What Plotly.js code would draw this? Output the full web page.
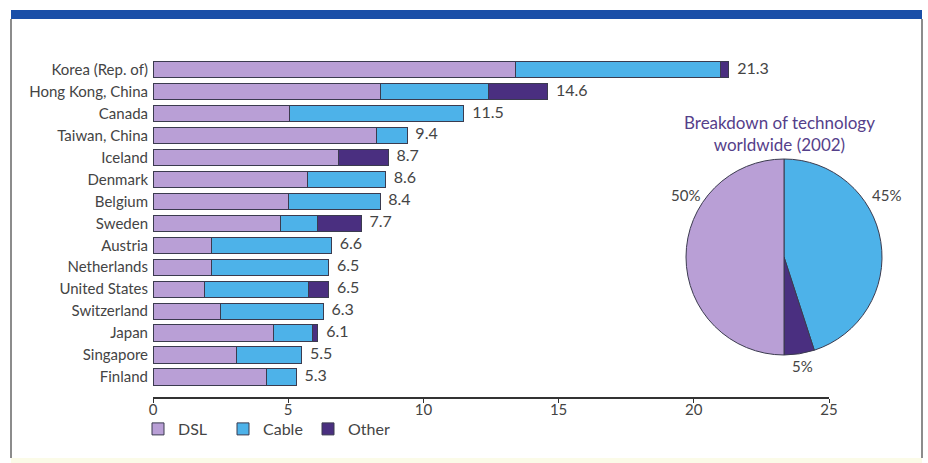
<!DOCTYPE html>
<html>
<head>
<meta charset="utf-8">
<script src="https://cdn.plot.ly/plotly-3.0.1.min.js"></script>
<style>html,body{margin:0;padding:0;background:#fff;}#chart{width:928px;height:463px;}</style>
</head>
<body>
<div id="chart"></div>
<script>
const countries = ["Korea (Rep. of)","Hong Kong, China","Canada","Taiwan, China","Iceland","Denmark","Belgium","Sweden","Austria","Netherlands","United States","Switzerland","Japan","Singapore","Finland"];
const dsl   = [13.4, 8.4, 5.05, 8.25, 6.85, 5.7, 5.0, 4.7, 2.15, 2.15, 1.9, 2.5, 4.45, 3.1, 4.2];
const cable = [7.6, 4.0, 6.45, 1.15, 0, 2.9, 3.4, 1.4, 4.45, 4.35, 3.85, 3.8, 1.45, 2.4, 1.1];
const other = [0.3, 2.2, 0, 0, 1.85, 0, 0, 1.6, 0, 0, 0.75, 0, 0.2, 0, 0];
const totals = [21.3, 14.6, 11.5, 9.4, 8.7, 8.6, 8.4, 7.7, 6.6, 6.5, 6.5, 6.3, 6.1, 5.5, 5.3];
const techLabels = ["Cable","Other","DSL"];
const techShare = [45, 5, 50];
const xTicks = [0, 5, 10, 15, 20, 25];

const cDSL = "#b99fd6", cCable = "#4db2e9", cOther = "#4a2f80";
const outline = {color:"#3b3b4f", width:1};
const font = "Lato, 'Open Sans', sans-serif";

const traces = [
  {type:"bar", orientation:"h", name:"DSL", y:countries, x:dsl, marker:{color:cDSL, line:outline}, width:0.74},
  {type:"bar", orientation:"h", name:"Cable", y:countries, x:cable, marker:{color:cCable, line:outline}, width:0.74},
  {type:"bar", orientation:"h", name:"Other", y:countries, x:other, marker:{color:cOther, line:outline}, width:0.74},
  {type:"scatter", mode:"text", y:countries, x:totals, text:totals.map(v=>"\u00a0\u00a0" + v.toFixed(1)), textposition:"middle right",
   textfont:{family:font, size:16, color:"#444"}, showlegend:false, cliponaxis:false},
  {type:"pie", labels:techLabels, values:techShare, sort:false, direction:"clockwise", rotation:0,
   marker:{colors:[cCable, cOther, cDSL], line:{color:"#3b3b4f", width:1}}, textinfo:"none", showlegend:false,
   domain:{x:[686/928, 882/928], y:[1-355/463, 1-159/463]}}
];

const pieLabelPos = {"DSL":[685,195], "Cable":[886,195], "Other":[802,366]};
const annotations = techLabels.map((l,i)=>({
  xref:"paper", yref:"paper", x:pieLabelPos[l][0]/928, y:1-pieLabelPos[l][1]/463, xanchor:"center", yanchor:"middle",
  text: techShare[i] + "%", showarrow:false, font:{family:font, size:15, color:"#444"}
}));
annotations.push({xref:"paper", yref:"paper", x:779/928, y:1-133/463, xanchor:"center", yanchor:"middle",
  text:"Breakdown of technology<br>worldwide (2002)",
  showarrow:false, font:{family:font, size:17, color:"#55408a"}, align:"center"});

const layout = {
  width:928, height:463,
  margin:{l:0, r:0, t:0, b:0},
  paper_bgcolor:"#fff", plot_bgcolor:"rgba(0,0,0,0)",
  barmode:"stack",
  font:{family:font, color:"#444"},
  xaxis:{domain:[153/928, 829/928], range:[0,25], tickvals:xTicks, ticktext:xTicks.map(String),
    showgrid:false, zeroline:false, showline:true, linecolor:"#333", linewidth:2,
    ticks:"outside", ticklen:4, tickcolor:"#333", ticklabelstandoff:-6, tickfont:{size:15, color:"#444"}, anchor:"y"},
  yaxis:{domain:[1-397/463, 1-56/463], type:"category", categoryorder:"array", categoryarray:countries,
    range:[14.91, -0.62], showgrid:false, zeroline:false, showline:false, ticks:"", ticklabelstandoff:4,
    tickfont:{size:15, color:"#444"}},
  legend:{orientation:"h", x:138/928, y:1-412/463, xanchor:"left", yanchor:"top", entrywidth:40,
    font:{size:16, color:"#444"}, traceorder:"normal", itemwidth:30, bgcolor:"rgba(0,0,0,0)"},
  shapes:[
    {type:"rect", xref:"paper", yref:"paper", x0:11/928, x1:922/928, y0:1-19/463, y1:1-10/463, fillcolor:"#1a4fa8", line:{width:0}},
    {type:"line", xref:"paper", yref:"paper", x0:11/928, x1:11/928, y0:1-458/463, y1:1-19/463, line:{color:"#666", width:1.5}},
    {type:"line", xref:"paper", yref:"paper", x0:922/928, x1:922/928, y0:1-458/463, y1:1-19/463, line:{color:"#666", width:1.5}},
    {type:"rect", xref:"paper", yref:"paper", x0:11/928, x1:922/928, y0:0, y1:1-458/463, fillcolor:"#fbfbe8", line:{width:0}}
  ],
  annotations:annotations
};
Plotly.newPlot("chart", traces, layout, {displayModeBar:false, staticPlot:true});
</script>
</body>
</html>
